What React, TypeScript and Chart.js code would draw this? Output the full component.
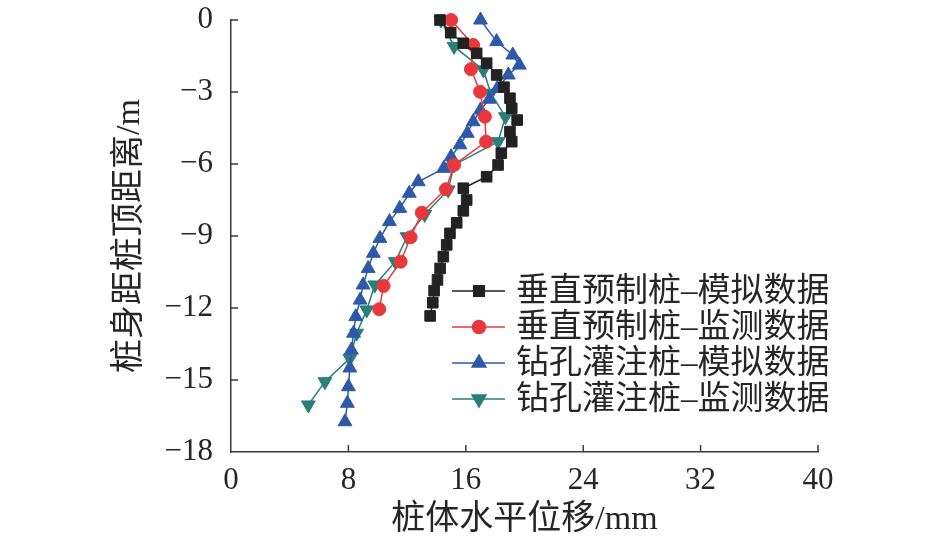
import { useEffect, useRef } from "react"
import { Chart, registerables } from "chart.js"
import { drawPoint } from "chart.js/helpers"

Chart.register(...registerables)

// tick labels
const xTickValues = [0, 8, 16, 24, 32, 40]
const yTickValues = [0, -3, -6, -9, -12, -15, -18]

// 垂直预制桩-模拟数据
const vpSimDepth = [0, -0.53, -0.97, -1.39, -1.8, -2.29, -2.8, -3.26, -3.68, -4.17, -4.65, -5.07, -5.55, -6.04, -6.53, -7.01, -7.5, -7.95, -8.45, -8.89, -9.37, -9.86, -10.35, -10.83, -11.28, -11.78, -12.33]
const vpSimDisp = [14.24, 14.97, 15.83, 16.74, 17.42, 18.1, 18.6, 19.01, 19.13, 19.5, 19.01, 19.13, 18.42, 18.2, 17.42, 15.83, 16.06, 15.83, 15.38, 14.92, 14.7, 14.47, 14.25, 14.07, 13.84, 13.75, 13.57]

// 垂直预制桩-监测数据
const vpMonDepth = [0, -1.04, -2.05, -2.99, -4.03, -5.07, -6.04, -7.05, -8.03, -9.05, -10.07, -11.08, -12.05]
const vpMonDisp = [15.0, 16.5, 16.35, 16.97, 17.3, 17.38, 15.2, 14.65, 13.0, 12.24, 11.56, 10.4, 10.1]

// 钻孔灌注桩-模拟数据
const bpSimDepth = [0, -0.9, -1.46, -1.88, -2.29, -2.85, -3.3, -3.75, -4.24, -4.72, -5.2, -5.7, -6.18, -6.74, -7.22, -7.85, -8.4, -9.1, -9.72, -10.35, -11.04, -11.67, -12.36, -13.05, -13.75, -14.5, -15.28, -15.97, -16.74]
const bpSimDisp = [17.0, 18.1, 19.2, 19.65, 18.9, 18.15, 17.6, 17.0, 16.5, 16.1, 15.6, 15.0, 14.5, 12.76, 12.15, 11.5, 10.8, 10.15, 9.7, 9.35, 9.0, 8.8, 8.5, 8.35, 8.2, 8.1, 8.0, 7.93, 7.77]

// 钻孔灌注桩-监测数据
const bpMonDepth = [0, -1.1, -2.08, -3.05, -4.03, -5.07, -6.04, -7.08, -8.1, -9.03, -10.07, -11.04, -12.08, -13.05, -14.1, -15.07, -16.04]
const bpMonDisp = [14.3, 15.2, 17.2, 17.7, 18.7, 18.2, 15.2, 14.8, 13.2, 12.0, 11.2, 9.8, 9.25, 8.56, 8.1, 6.4, 5.27]

const seriesNames = ["垂直预制桩–模拟数据", "垂直预制桩–监测数据", "钻孔灌注桩–模拟数据", "钻孔灌注桩–监测数据"]

const FONT = "'Liberation Serif', 'Noto Sans CJK SC', serif"
const TEXT = "#262626"
const AXIS = "#3a3a3a"

const toPoints = (xs: number[], ys: number[]) => xs.map((x, i) => ({ x, y: ys[i] }))

// ticks that point into the plot, like the original figure
const inwardTicks = {
  id: "inwardTicks",
  afterDraw(chart: any) {
    const { ctx, chartArea, scales } = chart
    ctx.save()
    ctx.strokeStyle = AXIS
    ctx.lineWidth = 1.5
    ctx.beginPath()
    xTickValues.forEach((v) => {
      if (v === 0) return
      const px = scales.x.getPixelForValue(v)
      ctx.moveTo(px, chartArea.bottom)
      ctx.lineTo(px, chartArea.bottom - 7)
    })
    yTickValues.forEach((v) => {
      if (v === -18) return
      const py = scales.y.getPixelForValue(v)
      ctx.moveTo(chartArea.left, py)
      ctx.lineTo(chartArea.left + 7, py)
    })
    ctx.stroke()
    ctx.restore()
  },
}

const insideLegend = {
  id: "insideLegend",
  afterDatasetsDraw(chart: any) {
    const { ctx } = chart
    ctx.save()
    chart.data.datasets.forEach((ds: any, i: number) => {
      const y = 291 + i * 36
      ctx.strokeStyle = ds.borderColor
      ctx.lineWidth = 1.5
      ctx.beginPath()
      ctx.moveTo(452, y)
      ctx.lineTo(505, y)
      ctx.stroke()
      ctx.fillStyle = ds.pointBackgroundColor
      ctx.strokeStyle = ds.borderColor
      drawPoint(ctx, { pointStyle: ds.pointStyle, radius: ds.pointRadius, rotation: ds.pointRotation || 0, borderWidth: 1 }, 479, y)
      ctx.fillStyle = TEXT
      ctx.font = `33px ${FONT}`
      ctx.textBaseline = "middle"
      ctx.textAlign = "left"
      ctx.fillText(seriesNames[i], 516, y + 1)
    })
    ctx.restore()
  },
}

function series(label: string, data: { x: number; y: number }[], color: string, pointStyle: string, radius: number, rotation = 0) {
  return {
    label,
    data,
    showLine: true,
    borderColor: color,
    backgroundColor: color,
    pointBackgroundColor: color,
    pointBorderColor: color,
    borderWidth: 1.5,
    pointStyle,
    pointRadius: radius,
    pointRotation: rotation,
    pointBorderWidth: 1,
    clip: false as const,
  }
}

export default function App() {
  const chartRef = useRef<HTMLCanvasElement>(null)
  const chartInstance = useRef<Chart | null>(null)

  useEffect(() => {
    if (!chartRef.current) return
    if (chartInstance.current) chartInstance.current.destroy()
    const ctx = chartRef.current.getContext("2d")
    if (!ctx) return

    chartInstance.current = new Chart(ctx, {
      type: "scatter",
      data: {
        datasets: [
          series(seriesNames[0], toPoints(vpSimDisp, vpSimDepth), "#222222", "rect", 7.5),
          series(seriesNames[1], toPoints(vpMonDisp, vpMonDepth), "#e8383d", "circle", 6.5),
          series(seriesNames[2], toPoints(bpSimDisp, bpSimDepth), "#2e59a8", "triangle", 8),
          series(seriesNames[3], toPoints(bpMonDisp, bpMonDepth), "#2a7f78", "triangle", 8, 180),
        ] as any,
      },
      options: {
        animation: false,
        responsive: true,
        maintainAspectRatio: false,
        layout: { padding: { left: 0, right: 127, top: 20, bottom: 0 } },
        plugins: {
          legend: { display: false },
          tooltip: { enabled: false },
        },
        scales: {
          x: {
            type: "linear",
            min: 0,
            max: 40,
            afterBuildTicks: (scale: any) => {
              scale.ticks = xTickValues.map((value) => ({ value }))
            },
            afterFit: (scale: any) => {
              scale.height = 98
            },
            grid: { display: true, drawOnChartArea: false, drawTicks: false },
            border: { display: true, color: AXIS, width: 1.5 },
            ticks: {
              color: TEXT,
              font: { family: FONT, size: 31 },
              padding: 10,
              maxRotation: 0,
            },
            title: {
              display: true,
              text: "桩体水平位移/mm",
              color: TEXT,
              font: { family: FONT, size: 34 },
              padding: { top: 0, bottom: 10 },
            },
          },
          y: {
            type: "linear",
            min: -18,
            max: 0,
            afterBuildTicks: (scale: any) => {
              scale.ticks = yTickValues.map((value) => ({ value }))
            },
            afterFit: (scale: any) => {
              scale.width = 231
              scale.paddingTop = 0
              scale.paddingBottom = 0
            },
            grid: { display: true, drawOnChartArea: false, drawTicks: false },
            border: { display: true, color: AXIS, width: 1.5 },
            ticks: {
              color: TEXT,
              font: { family: FONT, size: 31 },
              padding: 18,
              callback: (v: any) => (Number(v) < 0 ? "\u2212" + Math.abs(Number(v)) : String(v)),
            },
            title: {
              display: true,
              text: "桩身距桩顶距离/m",
              color: TEXT,
              font: { family: FONT, size: 34 },
              padding: { top: 110, bottom: 0 },
            },
          },
        },
      },
      plugins: [inwardTicks, insideLegend],
    })

    return () => {
      if (chartInstance.current) {
        chartInstance.current.destroy()
        chartInstance.current = null
      }
    }
  }, [])

  return (
    <div style={{ position: "absolute", left: 0, top: 0, width: 945, height: 550, background: "#fff" }}>
      <canvas ref={chartRef}></canvas>
    </div>
  )
}
